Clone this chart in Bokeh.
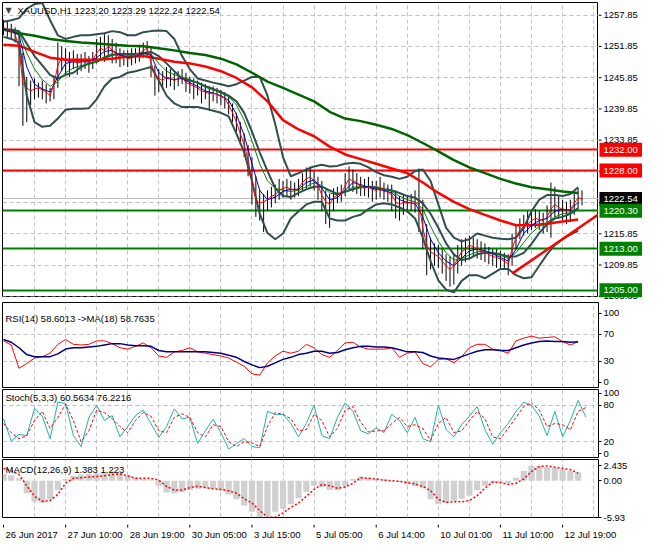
import numpy as np
from bokeh.plotting import figure
from bokeh.layouts import column, row
from bokeh.models import Range1d, FixedTicker, Label, Grid
from bokeh.core.properties import value
from bokeh.embed import file_html
from bokeh.resources import INLINE

# ---------------- texts ----------------
symbol_text = "XAUUSD,H1  1223.20 1223.29 1222.24 1222.54"
rsi_text = "RSI(14) 58.6013  ->MA(18) 58.7635"
stoch_text = "Stoch(5,3,3) 60.5634 76.2216"
macd_text = "MACD(12,26,9) 1.383 1.223"

# ---------------- axes ----------------
date_ticks = [0, 32, 64, 96, 128, 160, 192, 224, 256, 288]
date_labels = ["26 Jun 2017", "27 Jun 10:00", "28 Jun 19:00", "30 Jun 05:00", "3 Jul 15:00",
               "5 Jul 05:00", "6 Jul 14:00", "10 Jul 01:00", "11 Jul 10:00", "12 Jul 19:00"]
grid_bars = list(range(16, 306, 16))
price_ticks = [1257.85, 1251.85, 1245.85, 1239.85, 1233.85, 1227.85, 1221.85, 1215.85, 1209.85, 1203.85]
rsi_ticks = [0, 30, 70, 100]
rsi_levels = [30, 70]
stoch_ticks = [0, 20, 80, 100]
stoch_levels = [20, 80]
macd_ticks = [-5.93, 0.0, 2.435]
macd_tick_labels = ["-5.93", "0.00", "2.435"]

# ---------------- levels ----------------
resistance = [1232.00, 1228.00]
support = [1220.30, 1213.00, 1205.00]
last_price = 1222.54
trend_bar = [262, 307]
trend_price = [1208.2, 1219.7]

# ---------------- price bars (every 2 hours) ----------------
close = [1255.5, 1255.1, 1254.8, 1254.2, 1251.5, 1244.6, 1243.9, 1243.3, 1243.7, 1243.9,
         1243.5, 1243.1, 1242.4, 1244.6, 1248.2, 1249.7, 1249.3, 1248.9, 1249.1, 1248.6,
         1248.9, 1249.1, 1248.8, 1249.3, 1250.6, 1251.5, 1251.1, 1251.9, 1251.1, 1250.4,
         1249.7, 1249.9, 1249.5, 1249.7, 1250.0, 1250.4, 1251.1, 1251.5, 1248.8, 1246.4,
         1245.7, 1245.3, 1246.0, 1245.7, 1245.3, 1245.7, 1246.0, 1244.9, 1244.6, 1244.2,
         1243.9, 1243.3, 1243.1, 1242.8, 1242.9, 1242.6, 1242.2, 1241.9, 1240.6, 1239.1,
         1237.3, 1235.1, 1232.9, 1230.0, 1226.0, 1222.4, 1221.7, 1222.0, 1222.4, 1223.1,
         1223.3, 1224.2, 1224.6, 1224.8, 1224.4, 1224.2, 1224.6, 1225.7, 1226.4, 1226.8,
         1226.0, 1225.1, 1223.3, 1222.0, 1221.5, 1222.8, 1223.3, 1223.5, 1225.1, 1226.4,
         1226.0, 1225.7, 1224.9, 1224.6, 1224.8, 1224.4, 1224.2, 1224.6, 1224.0, 1223.9,
         1223.3, 1222.0, 1221.5, 1221.9, 1221.7, 1221.9, 1221.5, 1222.0, 1217.0, 1213.7,
         1212.4, 1211.9, 1211.5, 1210.6, 1209.7, 1209.0, 1209.7, 1211.1, 1212.4, 1212.9,
         1213.7, 1213.3, 1212.9, 1212.6, 1212.2, 1211.9, 1211.5, 1211.3, 1211.0, 1210.6,
         1210.0, 1212.9, 1215.1, 1216.6, 1217.3, 1217.7, 1218.4, 1218.8, 1218.6, 1218.4,
         1219.1, 1220.6, 1221.5, 1220.9, 1220.6, 1220.2, 1220.6, 1221.7, 1222.8, 1222.54]
high = [1257.0, 1256.6, 1256.2, 1255.5, 1254.4, 1250.6, 1246.0, 1245.3, 1245.7, 1244.9,
        1245.3, 1244.6, 1243.9, 1246.0, 1252.6, 1251.9, 1251.5, 1250.8, 1251.1, 1250.4,
        1250.4, 1250.8, 1250.0, 1250.8, 1253.3, 1253.7, 1254.4, 1254.0, 1253.3, 1252.6,
        1251.5, 1251.1, 1251.1, 1251.5, 1251.5, 1252.2, 1252.6, 1252.9, 1251.9, 1248.2,
        1247.5, 1247.1, 1247.9, 1247.5, 1246.8, 1247.1, 1247.5, 1246.8, 1246.0, 1245.7,
        1245.3, 1244.9, 1244.6, 1244.2, 1244.2, 1243.9, 1243.5, 1243.1, 1242.4, 1240.9,
        1239.1, 1237.3, 1235.1, 1232.9, 1230.6, 1226.9, 1224.2, 1223.5, 1224.2, 1224.9,
        1225.3, 1226.4, 1226.0, 1226.4, 1226.0, 1225.7, 1226.4, 1227.5, 1228.6, 1228.8,
        1227.9, 1226.8, 1226.0, 1224.2, 1223.5, 1224.6, 1224.9, 1225.3, 1227.5, 1228.8,
        1228.2, 1227.5, 1226.8, 1226.4, 1226.8, 1226.0, 1226.0, 1226.8, 1225.7, 1225.3,
        1225.3, 1224.2, 1223.1, 1223.5, 1223.1, 1223.5, 1224.2, 1228.4, 1222.4, 1217.7,
        1215.1, 1214.0, 1213.7, 1212.9, 1211.9, 1211.5, 1211.9, 1213.7, 1214.8, 1215.1,
        1215.5, 1215.1, 1214.8, 1214.4, 1214.0, 1213.3, 1212.9, 1212.9, 1212.6, 1212.2,
        1211.9, 1215.9, 1217.3, 1218.8, 1219.5, 1220.2, 1220.2, 1220.6, 1220.2, 1219.9,
        1221.3, 1225.7, 1224.9, 1223.1, 1222.4, 1222.0, 1222.4, 1223.5, 1224.6, 1224.2]
low = [1254.0, 1253.7, 1253.3, 1252.6, 1244.2, 1236.6, 1237.3, 1240.6, 1241.7, 1242.0,
       1241.7, 1240.9, 1241.3, 1241.7, 1243.9, 1247.1, 1246.4, 1246.0, 1247.5, 1246.4,
       1247.1, 1247.5, 1246.8, 1247.5, 1248.6, 1249.3, 1248.9, 1249.7, 1248.6, 1248.6,
       1247.9, 1248.2, 1247.9, 1248.2, 1248.6, 1248.9, 1249.7, 1250.0, 1246.0, 1242.4,
       1243.1, 1243.5, 1243.9, 1244.2, 1243.5, 1244.2, 1244.6, 1243.1, 1242.8, 1241.7,
       1242.4, 1240.9, 1241.7, 1239.5, 1241.3, 1240.9, 1240.6, 1239.9, 1238.8, 1237.3,
       1235.5, 1232.9, 1230.6, 1226.9, 1221.5, 1219.1, 1218.4, 1216.2, 1220.2, 1220.9,
       1221.7, 1222.4, 1222.8, 1223.1, 1222.4, 1222.8, 1223.1, 1224.2, 1224.6, 1224.9,
       1224.2, 1222.4, 1220.2, 1217.7, 1217.0, 1220.2, 1221.7, 1222.0, 1223.1, 1224.2,
       1223.9, 1223.5, 1223.1, 1223.1, 1222.8, 1222.0, 1222.4, 1222.8, 1222.4, 1222.0,
       1220.2, 1218.8, 1218.4, 1219.5, 1219.9, 1220.2, 1219.9, 1216.2, 1212.9, 1207.9,
       1209.0, 1209.7, 1209.3, 1208.2, 1206.8, 1205.7, 1206.1, 1208.2, 1209.7, 1210.4,
       1211.1, 1211.5, 1211.1, 1210.8, 1210.4, 1210.0, 1209.7, 1209.3, 1209.3, 1209.0,
       1207.9, 1209.7, 1212.9, 1214.8, 1215.5, 1215.9, 1216.6, 1217.0, 1216.6, 1215.9,
       1216.2, 1215.1, 1219.1, 1218.8, 1218.4, 1217.7, 1218.1, 1219.5, 1220.6, 1221.3]

# ---------------- moving averages / bands (every 4 hours) ----------------
ma_blue = [1255.1, 1254.9, 1254.0, 1247.9, 1244.6, 1243.7, 1243.1, 1246.0, 1248.6, 1248.9,
           1248.9, 1248.9, 1249.7, 1250.9, 1251.1, 1250.2, 1249.7, 1249.9, 1250.6, 1250.2,
           1246.8, 1245.7, 1245.5, 1245.7, 1244.9, 1244.2, 1243.3, 1242.9, 1242.4, 1241.5,
           1238.8, 1234.8, 1229.3, 1224.2, 1222.4, 1222.9, 1224.0, 1224.4, 1224.4, 1225.7,
           1226.2, 1224.6, 1222.4, 1222.8, 1224.2, 1225.7, 1225.3, 1224.8, 1224.4, 1224.2,
           1223.7, 1222.4, 1221.9, 1221.7, 1219.1, 1214.8, 1212.2, 1210.6, 1209.7, 1211.1,
           1212.6, 1212.9, 1212.6, 1212.0, 1211.3, 1210.6, 1212.9, 1215.9, 1217.5, 1218.4,
           1218.8, 1220.2, 1220.6, 1220.4, 1221.9]
ma_green_thin = [1255.1, 1254.9, 1254.6, 1250.6, 1247.5, 1245.5, 1244.2, 1245.1, 1246.8, 1247.7,
                 1248.2, 1248.4, 1248.9, 1249.9, 1250.4, 1250.2, 1250.0, 1250.0, 1250.4, 1250.4,
                 1248.6, 1247.1, 1246.4, 1246.0, 1245.5, 1244.8, 1244.0, 1243.5, 1242.9, 1242.2,
                 1240.6, 1237.7, 1233.7, 1229.3, 1226.0, 1224.6, 1224.2, 1224.0, 1224.2, 1224.9,
                 1225.7, 1225.1, 1223.7, 1223.3, 1223.9, 1224.8, 1224.9, 1224.8, 1224.6, 1224.4,
                 1224.0, 1223.1, 1222.4, 1222.0, 1220.6, 1217.3, 1214.4, 1212.2, 1210.8, 1211.1,
                 1211.8, 1212.4, 1212.4, 1212.0, 1211.7, 1211.1, 1212.2, 1214.2, 1216.0, 1217.3,
                 1218.0, 1219.1, 1219.7, 1219.9, 1220.9]
bb_upper = [1256.6, 1256.9, 1257.3, 1259.1, 1260.0, 1260.2, 1256.9, 1254.0, 1253.3, 1253.7,
            1254.0, 1254.0, 1254.2, 1254.4, 1254.8, 1254.6, 1254.0, 1254.0, 1254.6, 1254.8,
            1254.9, 1254.8, 1253.3, 1250.0, 1247.5, 1245.7, 1245.3, 1244.9, 1244.6, 1244.2,
            1244.6, 1245.3, 1246.0, 1246.0, 1242.4, 1236.9, 1230.6, 1226.9, 1227.5, 1228.2,
            1228.8, 1229.1, 1228.8, 1228.9, 1229.3, 1229.5, 1229.3, 1228.6, 1227.7, 1227.1,
            1226.8, 1226.4, 1226.8, 1227.9, 1228.2, 1226.0, 1221.5, 1217.0, 1215.1, 1214.4,
            1214.8, 1215.9, 1215.5, 1215.1, 1214.9, 1214.8, 1215.1, 1217.0, 1220.2, 1222.4,
            1223.3, 1223.3, 1223.1, 1223.5, 1224.8]
bb_middle = [1255.1, 1255.1, 1254.8, 1252.4, 1250.0, 1248.2, 1246.4, 1245.7, 1246.4, 1246.8,
             1247.9, 1248.6, 1248.9, 1249.7, 1250.2, 1250.4, 1250.4, 1250.4, 1250.6, 1250.8,
             1250.0, 1248.6, 1247.1, 1245.7, 1245.3, 1244.9, 1244.2, 1243.7, 1243.1, 1242.4,
             1241.3, 1239.1, 1235.5, 1231.5, 1227.9, 1224.6, 1223.1, 1222.9, 1223.7, 1224.4,
             1224.9, 1224.9, 1224.2, 1223.5, 1223.9, 1224.4, 1224.8, 1224.9, 1224.8, 1224.4,
             1224.2, 1223.7, 1223.1, 1222.8, 1221.7, 1219.7, 1217.0, 1214.0, 1211.9, 1210.8,
             1211.1, 1211.9, 1212.2, 1212.2, 1211.9, 1211.5, 1211.5, 1212.2, 1213.9, 1216.0,
             1217.7, 1218.8, 1219.1, 1219.7, 1220.6]
bb_lower = [1253.7, 1253.3, 1252.6, 1242.4, 1237.3, 1236.4, 1236.6, 1238.0, 1239.7, 1239.9,
            1239.9, 1240.0, 1241.7, 1244.2, 1245.7, 1246.0, 1246.8, 1247.1, 1247.5, 1247.9,
            1245.3, 1242.4, 1240.9, 1240.2, 1240.2, 1240.2, 1239.9, 1239.5, 1239.1, 1238.4,
            1235.1, 1231.5, 1226.0, 1219.7, 1216.0, 1214.8, 1215.9, 1218.8, 1220.2, 1221.5,
            1222.0, 1222.0, 1218.8, 1218.4, 1218.4, 1219.1, 1219.5, 1220.6, 1221.5, 1221.7,
            1221.5, 1220.9, 1220.2, 1218.8, 1215.1, 1210.6, 1206.9, 1205.1, 1204.6, 1206.8,
            1207.9, 1207.9, 1207.3, 1208.2, 1209.1, 1209.1, 1207.9, 1207.3, 1207.5, 1209.7,
            1211.9, 1213.7, 1214.8, 1215.7, 1216.4]

# ---------------- slow moving averages (every 8 hours) ----------------
ma_red_slow = [1252.2, 1252.0, 1250.8, 1249.7, 1249.3, 1249.3, 1249.3, 1249.5, 1249.9, 1250.0,
               1249.5, 1248.9, 1248.6, 1248.0, 1247.1, 1245.8, 1244.0, 1241.3, 1237.7, 1235.9,
               1234.6, 1232.6, 1231.1, 1230.2, 1229.3, 1228.4, 1227.5, 1225.7, 1223.7, 1222.0,
               1220.6, 1219.5, 1218.4, 1217.5, 1217.5, 1217.8, 1218.2, 1218.6]
ma_green_slow = [1255.1, 1254.4, 1253.9, 1253.3, 1252.9, 1252.6, 1252.4, 1252.2, 1252.0, 1251.9,
                 1251.5, 1251.1, 1250.6, 1250.2, 1249.5, 1248.4, 1246.8, 1245.1, 1243.9, 1242.6,
                 1241.3, 1239.3, 1238.0, 1237.5, 1236.8, 1236.0, 1234.8, 1233.3, 1231.7, 1230.0,
                 1228.6, 1227.5, 1226.4, 1225.5, 1224.8, 1224.4, 1224.0, 1223.7]

# ---------------- RSI (every 4 hours) ----------------
rsi = [60, 54, 20, 27, 35, 37, 42, 55, 62, 55,
       54, 55, 60, 60, 56, 50, 48, 52, 57, 50,
       38, 36, 44, 46, 50, 44, 42, 40, 38, 35,
       29, 23, 12, 10, 28, 38, 45, 42, 45, 55,
       50, 40, 36, 46, 57, 58, 51, 48, 48, 48,
       50, 36, 42, 44, 27, 22, 33, 34, 28, 37,
       50, 55, 55, 48, 46, 42, 60, 64, 67, 64,
       65, 66, 59, 54, 58.6]
rsi_ma = [62, 58, 50, 40, 37, 37, 37, 41, 48, 50,
          50, 51, 52, 54, 56, 56, 54, 53, 53, 52,
          46, 44, 44, 44, 44, 44, 44, 43, 42, 39,
          36, 30, 25, 21, 23, 28, 33, 36, 40, 42,
          45, 45, 42, 43, 47, 50, 52, 52, 51, 51,
          50, 47, 44, 44, 43, 38, 35, 34, 33, 37,
          41, 45, 47, 47, 46, 46, 50, 54, 57, 59,
          60, 59, 59, 58, 58.8]

# ---------------- Stochastic (every 4 hours) ----------------
stoch_k = [58, 21, 32, 30, 75, 62, 25, 85, 83, 30,
           12, 60, 80, 55, 63, 28, 45, 63, 72, 50,
           27, 45, 74, 58, 60, 17, 38, 57, 35, 8,
           17, 25, 12, 10, 70, 65, 65, 50, 28, 50,
           80, 30, 25, 60, 84, 70, 38, 33, 43, 35,
           65, 55, 35, 60, 25, 20, 80, 40, 28, 48,
           62, 78, 40, 16, 35, 50, 70, 85, 80, 62,
           30, 70, 28, 55, 88, 60.6]
stoch_d = [50, 35, 25, 30, 55, 70, 42, 60, 82, 55,
           20, 38, 72, 68, 58, 45, 35, 55, 68, 62,
           38, 35, 60, 66, 60, 35, 28, 48, 45, 20,
           12, 20, 18, 12, 45, 68, 65, 58, 38, 40,
           65, 55, 28, 42, 72, 78, 52, 36, 38, 38,
           50, 60, 45, 48, 42, 22, 50, 60, 35, 38,
           55, 70, 58, 28, 25, 42, 60, 78, 84, 72,
           45, 50, 48, 40, 70, 76.2]

# ---------------- MACD (every 4 hours) ----------------
macd_hist = [1.1, 0.9, 0.4, -2.0, -3.4, -3.6, -3.0, -1.5, 0.3, 0.8,
             1.0, 1.1, 1.2, 1.4, 1.5, 1.3, 0.9, 0.5, 0.3, 0.2,
             -0.8, -1.9, -2.0, -1.8, -1.5, -1.3, -1.2, -1.3, -1.6, -2.2,
             -3.0, -4.0, -5.0, -5.9, -5.7, -5.0, -4.5, -3.8, -2.8, -1.8,
             -0.8, -1.0, -1.5, -1.5, -0.8, 0.3, 0.7, 0.5, 0.3, 0.2,
             0.1, -0.2, -0.6, -0.9, -1.2, -3.0, -3.8, -3.6, -3.3, -2.9,
             -2.4, -1.5, -0.8, -0.4, -0.3, -0.4, 0.5, 1.6, 2.4, 2.4,
             2.2, 2.1, 1.9, 1.6, 1.383]
macd_signal = [2.0, 1.6, 1.0, -0.8, -2.5, -3.3, -3.2, -2.2, -0.4, 0.4,
               0.5, 0.6, 0.7, 0.8, 1.0, 1.1, 0.8, 0.4, 0.4, 0.4,
               0.1, -0.9, -1.5, -1.5, -1.1, -0.9, -1.1, -1.3, -1.4, -1.6,
               -2.0, -2.9, -3.6, -4.8, -5.9, -5.9, -5.2, -4.3, -3.6, -2.5,
               -1.4, -0.6, -0.8, -1.2, -1.0, -0.4, 0.5, 0.4, 0.3, 0.1,
               0.0, -0.1, -0.3, -0.5, -0.9, -1.6, -3.0, -3.5, -3.4, -3.4,
               -3.2, -2.4, -1.2, -0.2, -0.3, -0.6, -0.4, 0.3, 1.5, 2.3,
               2.4, 2.2, 2.0, 1.8, 1.223]


def bars(values, step):
    return np.arange(len(values)) * step


FONT = "Liberation Sans"
FS = "9.5px"
FW = 596
SW = 44
xr = Range1d(-0.5, 306.5)
GRID_C = "#c0c0c0"
GRID_D = "4 3"


def style_yaxis(ax):
    ax.axis_line_color = None
    ax.major_tick_line_color = "black"
    ax.major_tick_in = 0
    ax.major_tick_out = 3
    ax.minor_tick_line_color = None
    ax.major_label_text_font = FONT
    ax.major_label_text_font_size = FS
    ax.major_label_text_color = "black"
    ax.major_label_standoff = 2


def make_fig(fh, yr, top, bottom, yaxis=True):
    p = figure(frame_width=FW, frame_height=fh, x_range=xr, y_range=yr,
               x_axis_location=None, y_axis_location="right" if yaxis else None,
               output_backend="svg", toolbar_location=None,
               min_border_left=2, min_border_right=SW if yaxis else 0, min_border_top=top,
               min_border_bottom=bottom, background_fill_color="white",
               border_fill_color="white")
    p.outline_line_color = "black"
    p.outline_line_width = 1
    p.grid.visible = False
    p.add_layout(Grid(dimension=0, ticker=FixedTicker(ticks=grid_bars),
                      grid_line_color=GRID_C, grid_line_dash=GRID_D))
    if yaxis:
        style_yaxis(p.yaxis[0])
    return p


def plain_fig(fw, fh, x_range, y_range, left, top, bottom):
    p = figure(frame_width=fw, frame_height=fh, x_range=x_range, y_range=y_range,
               x_axis_location=None, y_axis_location=None, output_backend="svg",
               toolbar_location=None, min_border_left=left, min_border_right=0,
               min_border_top=top, min_border_bottom=bottom,
               background_fill_color="white", border_fill_color="white")
    p.outline_line_color = None
    p.grid.visible = False
    return p


def caption(p, fh, dy, text, x=3):
    p.add_layout(Label(x=x, y=fh - dy, x_units="screen", y_units="screen", text=text,
                       text_baseline="middle", text_align="left", text_font=FONT,
                       text_font_size=FS, text_color="black"))


# ================= main price panel =================
H1 = 294
TOP1, BOT1 = 2, 5
y_lo, y_hi = 1203.8, 1260.3
yr1 = Range1d(y_lo, y_hi)
p1 = make_fig(H1, yr1, TOP1, BOT1, yaxis=False)
p1.add_layout(Grid(dimension=1, ticker=FixedTicker(ticks=price_ticks),
                   grid_line_color=GRID_C, grid_line_dash=GRID_D))

p1.hspan(y=[last_price], line_color="#c0c0c0", line_width=1)
p1.hspan(y=resistance, line_color="#ff0000", line_width=2)
p1.hspan(y=support, line_color="#008000", line_width=2)

x2 = bars(close, 2)
p1.segment(x0=x2, y0=low, x1=x2, y1=high, line_color="black", line_width=1)

x4 = bars(bb_upper, 4)
for band in (bb_upper, bb_middle, bb_lower):
    p1.line(x4, band, line_color="#2f4f4f", line_width=2)

x8 = bars(ma_red_slow, 8)
p1.line(x8, ma_green_slow, line_color="#006400", line_width=2.5)
p1.line(x8, ma_red_slow, line_color="#ff0000", line_width=2.5)
p1.line(trend_bar, trend_price, line_color="#ff0000", line_width=2.5)

p1.line(bars(ma_green_thin, 4), ma_green_thin, line_color="#008000", line_width=1)
p1.line(bars(ma_blue, 4), ma_blue, line_color="#0000cd", line_width=1)
p1.line(x2, close, line_color="#ff0000", line_width=1)

p1.add_layout(Label(x=3, y=H1 - 8, x_units="screen", y_units="screen", text="\u25bc",
                    text_baseline="middle", text_font="DejaVu Sans", text_font_size="8px",
                    text_color="#404040"))
caption(p1, H1, 8, symbol_text, x=15)

# price scale strip to the right of the main panel (tick labels + level tags)
units_per_px = (y_hi - y_lo) / H1
s1 = plain_fig(SW, H1 + BOT1, Range1d(0, SW), Range1d(y_lo - BOT1 * units_per_px, y_hi),
               0, TOP1, 0)
s1.segment(x0=0, x1=3, y0=price_ticks, y1=price_ticks, line_color="black", line_width=1)
s1.text(x=5, y=price_ticks, text=[f"{t:.2f}" for t in price_ticks],
        text_font=value(FONT), text_font_size=value(FS), text_color="black",
        text_baseline="middle", text_align="left")

tag_values = resistance + [last_price] + support
tag_colors = ["#ff0000"] * len(resistance) + ["#000000"] + ["#008000"] * len(support)
s1.rect(x=SW / 2 + 0.5, y=tag_values, width=SW - 1, height=14, height_units="screen",
        fill_color=tag_colors, line_color=None)
s1.text(x=5, y=tag_values, text=[f"{v:.2f}" for v in tag_values],
        text_font=value(FONT), text_font_size=value(FS), text_color="white",
        text_baseline="middle", text_align="left")

# ================= RSI panel =================
H2 = 85
p2 = make_fig(H2, Range1d(-8, 116), 1, 1)
p2.yaxis[0].ticker = FixedTicker(ticks=rsi_ticks)
p2.add_layout(Grid(dimension=1, ticker=FixedTicker(ticks=rsi_levels),
                   grid_line_color=GRID_C, grid_line_dash=GRID_D))
p2.line(bars(rsi, 4), rsi, line_color="#ff0000", line_width=1)
p2.line(bars(rsi_ma, 4), rsi_ma, line_color="#000080", line_width=1.5)
caption(p2, H2, 16, rsi_text)

# ================= Stochastic panel =================
H3 = 68
p3 = make_fig(H3, Range1d(-6, 106), 1, 1)
p3.yaxis[0].ticker = FixedTicker(ticks=stoch_ticks)
p3.add_layout(Grid(dimension=1, ticker=FixedTicker(ticks=stoch_levels),
                   grid_line_color=GRID_C, grid_line_dash=GRID_D))
p3.line(bars(stoch_k, 4), stoch_k, line_color="#20b2aa", line_width=1)
p3.line(bars(stoch_d, 4), stoch_d, line_color="#ff0000", line_width=1, line_dash="3 2")
caption(p3, H3, 8, stoch_text)

# ================= MACD panel =================
H4 = 58
p4 = make_fig(H4, Range1d(-5.93, 3.44), 1, 7)
p4.yaxis[0].ticker = FixedTicker(ticks=macd_ticks)
p4.yaxis[0].major_label_overrides = dict(zip(macd_ticks, macd_tick_labels))
p4.vbar(x=bars(macd_hist, 4), top=macd_hist, bottom=0, width=3.2,
        fill_color="#d0d0d0", line_color=None)
p4.line(bars(macd_signal, 4), macd_signal, line_color="#ff0000", line_width=1.5, line_dash="2 2")
caption(p4, H4, 10, macd_text)

# ================= time scale strip =================
HD = 20
bars_per_px = (xr.end - xr.start) / FW
d = plain_fig(FW + SW, HD, Range1d(xr.start, xr.end + SW * bars_per_px),
              Range1d(0, HD), 2, 0, 0)
d.segment(x0=date_ticks, x1=date_ticks, y0=HD, y1=HD - 3, line_color="black", line_width=1)
d.text(x=date_ticks, y=HD - 10, text=date_labels, x_offset=2,
       text_font=value(FONT), text_font_size=value(FS), text_color="black",
       text_baseline="middle", text_align="left")

layout = column(row(p1, s1), p2, p3, p4, d)
open("out.html", "w").write(file_html(layout, INLINE))
